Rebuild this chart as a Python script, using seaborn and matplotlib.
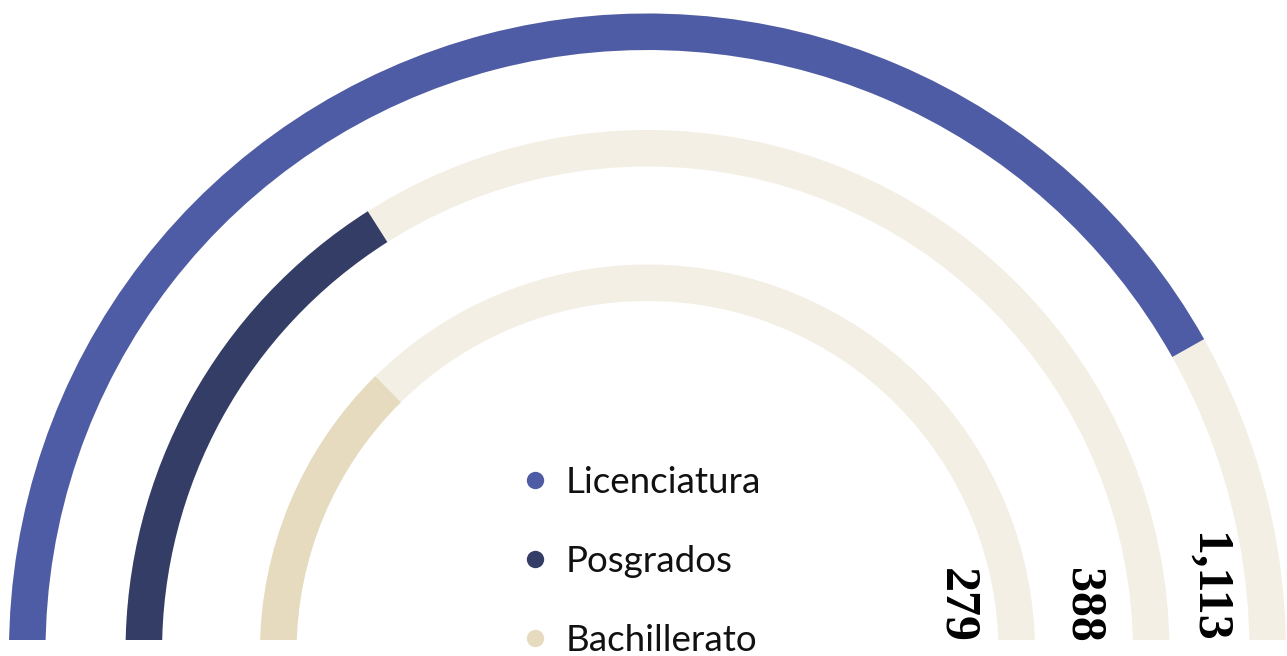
import numpy as np
import matplotlib
matplotlib.use("Agg")
import matplotlib.pyplot as plt
from matplotlib.lines import Line2D
from matplotlib.transforms import Bbox
import seaborn as sns

# Datos
niveles = ["Licenciatura", "Posgrados", "Bachillerato"]
totales = [1113, 388, 279]
porcentaje_arco = [83.7, 32.0, 25.2]   # parte del semicírculo ocupada por cada barra

COLORES = ["#4e5ca5", "#343d66", "#e6dbbf"]
FONDO = "#f4efe5"

# geometría (pixeles)
W, H = 1287, 656
CX, CY = 647.5, 4          # centro del semicírculo, desde abajo
RMAX = 650
RADIOS = [638.5, 522, 387.5]   # borde exterior de cada anillo
GROSOR = 36.5
DESPLAZ_ETIQ = [-42, -51, -42]

sns.set_theme(style="white")

fig = plt.figure(figsize=(W / 100, H / 100), dpi=100)
ax = fig.add_axes([(CX - RMAX) / W, (CY - RMAX) / H, 2 * RMAX / W, 2 * RMAX / H],
                  projection="polar")
ax.set_theta_zero_location("W")
ax.set_theta_direction(-1)
ax.set_rlim(0, RMAX)
ax.set_axis_off()

# los anillos se cortan un poco por encima del centro
recorte = Bbox.from_extents(0, 16, W, H)

for nivel, total, pct, color, r_ext, dx in zip(niveles, totales, porcentaje_arco,
                                                COLORES, RADIOS, DESPLAZ_ETIQ):
    r_int = r_ext - GROSOR
    fondo = ax.bar(0, GROSOR, width=np.pi, bottom=r_int, align="edge",
                   color=FONDO, linewidth=0)
    barra = ax.bar(0, GROSOR, width=np.pi * pct / 100, bottom=r_int, align="edge",
                   color=color, linewidth=0)
    for p in list(fondo) + list(barra):
        p.set_clip_box(recorte)

    ax.annotate(f"{total:,}", xy=(np.pi, r_int), xytext=(dx, 9),
                textcoords="offset pixels", rotation=-90, ha="center", va="bottom",
                fontsize=36, fontweight="bold", family="Liberation Serif",
                color="black")

handles = [Line2D([], [], marker="o", linestyle="", markersize=12.5,
                  markeredgewidth=0, color=c) for c in COLORES]
fig.legend(handles, niveles, loc="upper left",
           bbox_to_anchor=(525 / W, 1 - 466 / H), frameon=False,
           prop={"family": "Lato", "size": 26.5}, labelcolor="#111111",
           handlelength=0.55, handletextpad=0.55, labelspacing=1.25,
           borderpad=0, borderaxespad=0)

fig.savefig("out.png", dpi=100, facecolor="white")
plt.close()
